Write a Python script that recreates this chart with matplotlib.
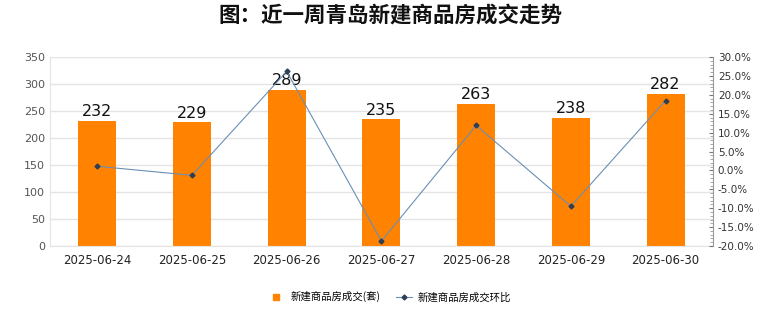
import matplotlib
matplotlib.use("Agg")
import matplotlib.pyplot as plt
from matplotlib.ticker import FuncFormatter, MultipleLocator

plt.rcParams["font.family"] = ["Noto Sans CJK SC", "DejaVu Sans"]

dates = ["2025-06-24", "2025-06-25", "2025-06-26", "2025-06-27",
         "2025-06-28", "2025-06-29", "2025-06-30"]
deals = [232, 229, 289, 235, 263, 238, 282]
mom_pct = [1.1, -1.3, 26.2, -18.7, 11.9, -9.5, 18.5]

BAR = "#ff8200"
LINE = "#6a8fb5"
MARK = "#2e3f55"
GRID = "#e4e4e4"

fig = plt.figure(figsize=(7.8, 3.28), dpi=100)
ax = fig.add_axes([0.064, 0.25, 0.85, 0.576])
x = list(range(len(dates)))

ax.bar(x, deals, width=0.4, color=BAR, zorder=2)
for xi, v in zip(x, deals):
    ax.text(xi, v + 3, str(v), ha="center", va="bottom", fontsize=11.5,
            color="#111111", family="DejaVu Sans", zorder=5)

ax.set_xlim(-0.5, len(dates) - 0.5)
ax.set_ylim(0, 350)
ax.yaxis.set_major_locator(MultipleLocator(50))
ax.set_xticks(x)
ax.set_xticklabels(dates, fontsize=8.5, color="#222222", family="DejaVu Sans")
ax.tick_params(axis="y", labelsize=8, colors="#555555", length=0)
ax.tick_params(axis="x", length=0, pad=6)
for lab in ax.get_yticklabels():
    lab.set_family("DejaVu Sans")
ax.grid(axis="y", color=GRID, linewidth=1, zorder=0)
ax.set_axisbelow(True)
for s in ["top", "right"]:
    ax.spines[s].set_visible(False)
ax.spines["left"].set_color(GRID)
ax.spines["bottom"].set_color(GRID)

ax2 = ax.twinx()
ax2.plot(x, mom_pct, color=LINE, linewidth=0.8, marker="D", markersize=2.5,
         markerfacecolor=MARK, markeredgecolor=MARK, zorder=4)
ax2.set_ylim(-20, 30)
ax2.yaxis.set_major_locator(MultipleLocator(5))
ax2.yaxis.set_minor_locator(MultipleLocator(1))
ax2.yaxis.set_major_formatter(FuncFormatter(lambda v, p: f"{v:.1f}%"))
ax2.tick_params(axis="y", which="major", labelsize=7.5, colors="#333333",
                length=3, color="#777777", direction="in")
ax2.tick_params(axis="y", which="minor", length=2, color="#999999", direction="in")
for lab in ax2.get_yticklabels():
    lab.set_family("DejaVu Sans")
for s in ["top", "left", "bottom"]:
    ax2.spines[s].set_visible(False)
ax2.spines["right"].set_color("#999999")
ax2.spines["right"].set_linestyle((0, (1, 1)))

fig.suptitle("图：近一周青岛新建商品房成交走势", fontsize=15.5, fontweight="bold",
             y=0.985, x=0.5, color="#111111")

h1 = plt.Line2D([], [], color=BAR, marker="s", linestyle="none", markersize=5)
h2 = plt.Line2D([], [], color=LINE, marker="D", markersize=2.5,
                markerfacecolor=MARK, markeredgecolor=MARK, linewidth=0.8)
fig.legend([h1, h2], ["新建商品房成交(套)", "新建商品房成交环比"],
           loc="center", bbox_to_anchor=(0.5, 0.095), ncol=2, frameon=False,
           fontsize=7.5, handlelength=1.5, columnspacing=1.5, handletextpad=0.6)

fig.savefig("out.png", dpi=100)
